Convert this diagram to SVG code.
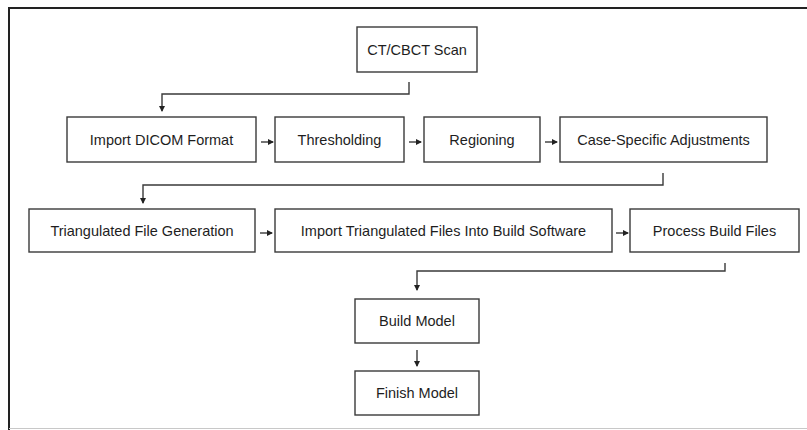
<svg xmlns="http://www.w3.org/2000/svg" width="807" height="430" viewBox="0 0 807 430">
  <defs>
    <marker id="tip" markerWidth="6" markerHeight="6" refX="5" refY="3" orient="auto" markerUnits="userSpaceOnUse">
      <path d="M0,0 L6,3 L0,6 Z" fill="#222"/>
    </marker>
    <style>
      .box { fill: #fff; stroke: #3a3a3a; stroke-width: 1.4; }
      .lbl { font-family: "Liberation Sans", Arial, sans-serif; font-size: 14.5px; fill: #1e1e1e; text-anchor: middle; }
      .link { fill: none; stroke: #3a3a3a; stroke-width: 1.4; marker-end: url(#tip); }
      .frame { fill: none; stroke: #222; stroke-width: 2; }
    </style>
  </defs>

  <rect width="807" height="430" fill="#fff"/>

  <!-- outer frame -->
  <path class="frame" d="M9,430 V8 H807"/>
  <line x1="9" y1="428.5" x2="807" y2="428.5" stroke="#c8c8c8" stroke-width="1"/>

  <!-- process steps -->
  <g id="ct-scan">
    <rect class="box" x="357" y="27" width="120" height="45"/>
    <text class="lbl" x="417" y="54.5">CT/CBCT Scan</text>
  </g>
  <g id="import-dicom">
    <rect class="box" x="67" y="117" width="189" height="45"/>
    <text class="lbl" x="161.5" y="144.5">Import DICOM Format</text>
  </g>
  <g id="thresholding">
    <rect class="box" x="275" y="117" width="129" height="45"/>
    <text class="lbl" x="339.5" y="144.5">Thresholding</text>
  </g>
  <g id="regioning">
    <rect class="box" x="424" y="117" width="116" height="45"/>
    <text class="lbl" x="482" y="144.5">Regioning</text>
  </g>
  <g id="case-adjustments">
    <rect class="box" x="560" y="117" width="207" height="45"/>
    <text class="lbl" x="663.5" y="144.5">Case-Specific Adjustments</text>
  </g>
  <g id="triangulated-generation">
    <rect class="box" x="29" y="209" width="226" height="43"/>
    <text class="lbl" x="142" y="235.5">Triangulated File Generation</text>
  </g>
  <g id="import-triangulated">
    <rect class="box" x="275" y="209" width="337" height="43"/>
    <text class="lbl" x="443.5" y="235.5">Import Triangulated Files Into Build Software</text>
  </g>
  <g id="process-build">
    <rect class="box" x="630" y="209" width="169" height="43"/>
    <text class="lbl" x="714.5" y="235.5">Process Build Files</text>
  </g>
  <g id="build-model">
    <rect class="box" x="355" y="299" width="124" height="44"/>
    <text class="lbl" x="417" y="326">Build Model</text>
  </g>
  <g id="finish-model">
    <rect class="box" x="355" y="371" width="124" height="44"/>
    <text class="lbl" x="417" y="398">Finish Model</text>
  </g>

  <!-- connectors -->
  <g id="connectors">
    <path class="link" d="M409,82 V94 H162 V111"/>
    <path class="link" d="M261,142 H273"/>
    <path class="link" d="M409,142 H421"/>
    <path class="link" d="M545,142 H557"/>
    <path class="link" d="M663,173 V185 H143 V203"/>
    <path class="link" d="M260,233 H272"/>
    <path class="link" d="M616,233 H628"/>
    <path class="link" d="M725,263 V271 H417 V290"/>
    <path class="link" d="M417,350 V366"/>
  </g>
</svg>
